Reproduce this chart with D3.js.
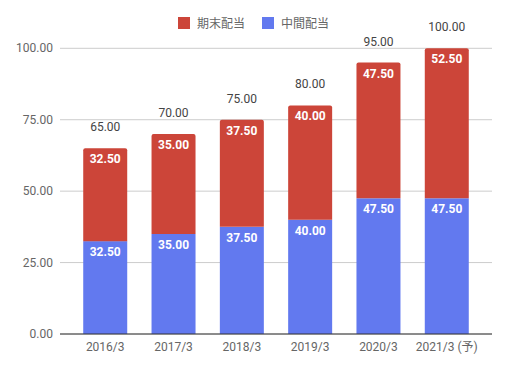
<!DOCTYPE html>
<html>
<head>
<meta charset="utf-8">
<script src="https://cdn.jsdelivr.net/npm/d3@7"></script>
<style>
body{margin:0;background:#fff;}
text{font-family:Roboto,"Noto Sans CJK JP",sans-serif;}
</style>
</head>
<body>
<svg class="chart"></svg>
<script>
var years = ["2016/3","2017/3","2018/3","2019/3","2020/3","2021/3 (予)"];
var interim = [32.5,35,37.5,40,47.5,47.5];   // 中間配当
var yearEnd = [32.5,35,37.5,40,47.5,52.5];   // 期末配当
var yTicks = [0,25,50,75,100];
var seriesNames = ["期末配当","中間配当"];
var seriesColors = ["#cc4539","#6279ef"];

var width = 508;
var height = 370;

var svg = d3.select(".chart")
  .attr("width",width)
  .attr("height",height);

var x = d3.scaleBand()
  .domain(years)
  .range([60,492])
  .paddingInner(0.356)
  .paddingOuter(0.34);

var y = d3.scaleLinear()
  .domain([0,100])
  .range([334,48.3]);

// gridlines + y labels
svg.selectAll(".grid")
   .data(yTicks)
   .enter()
   .append("line")
   .attr("x1",60)
   .attr("x2",492)
   .attr("y1",function(d){return y(d);})
   .attr("y2",function(d){return y(d);})
   .attr("stroke","#cccccc")
   .attr("stroke-width",1);

svg.selectAll(".ylab")
   .data(yTicks)
   .enter()
   .append("text")
   .text(function(d){return d3.format(".2f")(d);})
   .attr("x",53)
   .attr("y",function(d){return y(d)+4;})
   .attr("text-anchor","end")
   .attr("font-size","12px")
   .attr("fill","#666");

var rows = years.map(function(yr,i){
  return {year:yr, interim:interim[i], yearEnd:yearEnd[i], total:interim[i]+yearEnd[i]};
});

// bottom segment
svg.selectAll(".bottom")
   .data(rows)
   .enter()
   .append("rect")
   .attr("x",function(d){return x(d.year);})
   .attr("y",function(d){return y(d.interim);})
   .attr("width",x.bandwidth())
   .attr("height",function(d){return y(0)-y(d.interim);})
   .attr("fill",seriesColors[1]);

// top segment with rounded top corners
svg.selectAll(".top")
   .data(rows)
   .enter()
   .append("path")
   .attr("d",function(d){
     var x0 = x(d.year), x1 = x0 + x.bandwidth();
     var yt = y(d.total), yb = y(d.interim), r = 2;
     return "M"+x0+","+yb+"L"+x0+","+(yt+r)+"Q"+x0+","+yt+" "+(x0+r)+","+yt+
            "L"+(x1-r)+","+yt+"Q"+x1+","+yt+" "+x1+","+(yt+r)+"L"+x1+","+yb+"Z";
   })
   .attr("fill",seriesColors[0]);

// baseline
svg.append("line")
   .attr("x1",60).attr("x2",492)
   .attr("y1",y(0)).attr("y2",y(0))
   .attr("stroke","#333").attr("stroke-width",1);

// segment labels
svg.selectAll(".lab1")
   .data(rows)
   .enter()
   .append("text")
   .text(function(d){return d3.format(".2f")(d.interim);})
   .attr("x",function(d){return x(d.year)+x.bandwidth()/2;})
   .attr("y",function(d){return y(d.interim)+15;})
   .attr("text-anchor","middle")
   .attr("font-size","12px")
   .attr("font-weight","bold")
   .attr("fill","#fff");

svg.selectAll(".lab2")
   .data(rows)
   .enter()
   .append("text")
   .text(function(d){return d3.format(".2f")(d.yearEnd);})
   .attr("x",function(d){return x(d.year)+x.bandwidth()/2;})
   .attr("y",function(d){return y(d.total)+15;})
   .attr("text-anchor","middle")
   .attr("font-size","12px")
   .attr("font-weight","bold")
   .attr("fill","#fff");

// totals
svg.selectAll(".total")
   .data(rows)
   .enter()
   .append("text")
   .text(function(d){return d3.format(".2f")(d.total);})
   .attr("x",function(d){return x(d.year)+x.bandwidth()/2;})
   .attr("y",function(d){return y(d.total)-17;})
   .attr("text-anchor","middle")
   .attr("font-size","12px")
   .attr("fill","#444");

// x labels
svg.selectAll(".xlab")
   .data(years)
   .enter()
   .append("text")
   .text(function(d){return d;})
   .attr("x",function(d){return x(d)+x.bandwidth()/2;})
   .attr("y",351)
   .attr("text-anchor","middle")
   .attr("font-size","12px")
   .attr("fill","#666");

// legend
var legX = [178,262];
var leg = svg.selectAll(".leg")
   .data(seriesNames)
   .enter()
   .append("g")
   .attr("transform",function(d,i){return "translate("+legX[i]+",17)";});
leg.append("rect")
   .attr("width",12).attr("height",12)
   .attr("fill",function(d,i){return seriesColors[i];});
leg.append("text")
   .text(function(d){return d;})
   .attr("x",19)
   .attr("y",11)
   .attr("font-size","12px")
   .attr("fill","#666");
</script>
</body>
</html>
